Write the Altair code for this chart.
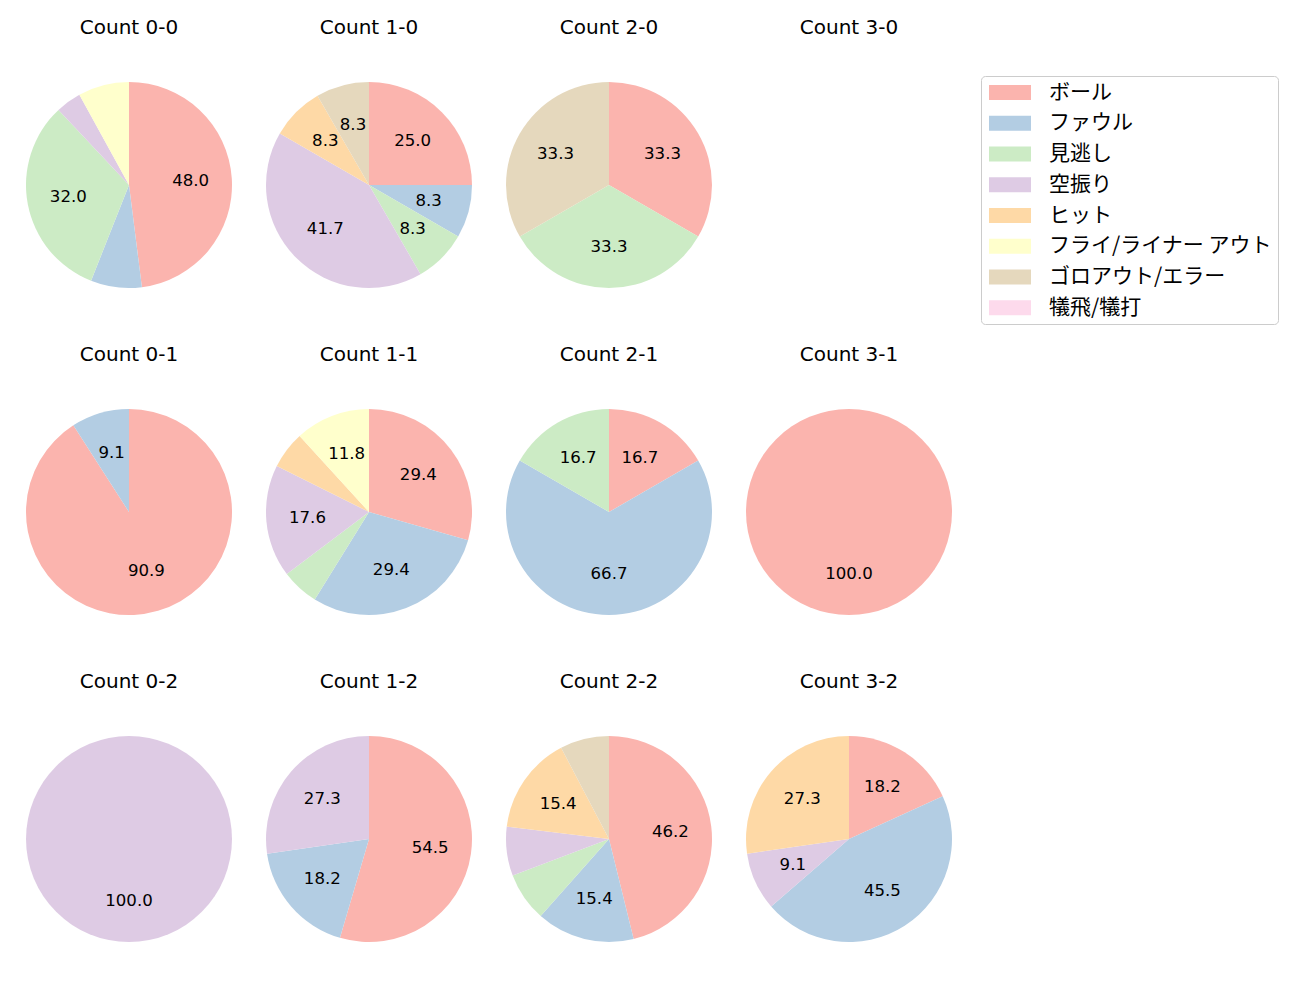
import altair as alt
import pandas as pd

FONT = "DejaVu Sans"
JFONT = "Noto Sans CJK JP"

categories = ["ボール", "ファウル", "見逃し", "空振り", "ヒット",
              "フライ/ライナー アウト", "ゴロアウト/エラー", "犠飛/犠打"]
colors = ["#fbb4ae", "#b3cde3", "#ccebc5", "#decbe4", "#fed9a6",
          "#ffffcc", "#e5d8bd", "#fddaec"]

grid = [["0-0", "1-0", "2-0", "3-0"],
        ["0-1", "1-1", "2-1", "3-1"],
        ["0-2", "1-2", "2-2", "3-2"]]

c_0_0 = [12, 2, 8, 1, 0, 2, 0, 0]
c_1_0 = [3, 1, 1, 5, 1, 0, 1, 0]
c_2_0 = [1, 0, 1, 0, 0, 0, 1, 0]
c_3_0 = [0, 0, 0, 0, 0, 0, 0, 0]
c_0_1 = [10, 1, 0, 0, 0, 0, 0, 0]
c_1_1 = [5, 5, 1, 3, 1, 2, 0, 0]
c_2_1 = [1, 4, 1, 0, 0, 0, 0, 0]
c_3_1 = [1, 0, 0, 0, 0, 0, 0, 0]
c_0_2 = [0, 0, 0, 1, 0, 0, 0, 0]
c_1_2 = [6, 2, 0, 3, 0, 0, 0, 0]
c_2_2 = [6, 2, 1, 1, 2, 0, 1, 0]
c_3_2 = [2, 5, 0, 1, 3, 0, 0, 0]

counts = {"0-0": c_0_0, "1-0": c_1_0, "2-0": c_2_0, "3-0": c_3_0,
          "0-1": c_0_1, "1-1": c_1_1, "2-1": c_2_1, "3-1": c_3_1,
          "0-2": c_0_2, "1-2": c_1_2, "2-2": c_2_2, "3-2": c_3_2}

R = 103
SIZE = 206

color_scale = alt.Scale(domain=categories, range=colors)
legend = alt.Legend(
    title=None, orient="none", legendX=955, legendY=-6,
    symbolType="M-0.81,-0.714L3.19,-0.714L3.19,0.714L-0.81,0.714Z",
    symbolSize=441,
    symbolStrokeWidth=0, symbolOpacity=1,
    labelFont=JFONT, labelFontSize=21, labelColor="black", labelOffset=41,
    labelExpr="datum.label + ' '",
    rowPadding=8.75, padding=6, strokeColor="#cccccc", fillColor="white",
    cornerRadius=4, labelLimit=400,
)


def title_for(name):
    return alt.TitleParams(text=f"Count {name}", font=FONT, fontSize=20,
                           fontWeight="normal", color="black", offset=44)


def make_pie(name):
    vals = counts[name]
    total = sum(vals)
    if total == 0:
        df = pd.DataFrame({"v": [0]})
        return alt.Chart(df).mark_text(text="").encode(
            x=alt.value(SIZE / 2), y=alt.value(SIZE / 2)
        ).properties(width=SIZE, height=SIZE, title=title_for(name))
    rows = []
    for i, (c, v) in enumerate(zip(categories, vals)):
        if v > 0:
            pct = 100.0 * v / total
            rows.append({"idx": i, "cat": c, "value": v,
                         "label": f"{pct:.1f}" if pct > 8.1 else ""})
    df = pd.DataFrame(rows)
    base = alt.Chart(df).encode(
        theta=alt.Theta("value:Q", stack=True),
        order=alt.Order("idx:Q", sort="ascending"),
    )
    arcs = base.mark_arc(outerRadius=R).encode(
        color=alt.Color("cat:N", scale=color_scale, legend=legend)
    )
    texts = base.mark_text(radius=0.6 * R, font=FONT, fontSize=16.6,
                           color="black").encode(
        text="label:N", detail="cat:N"
    )
    return alt.layer(arcs, texts).properties(width=SIZE, height=SIZE,
                                             title=title_for(name))


rows = [alt.hconcat(*[make_pie(n) for n in r], spacing=34) for r in grid]
chart = alt.vconcat(*rows, spacing=57).properties(
    padding={"left": 18, "top": 10, "right": 10, "bottom": 10}
).configure_view(strokeWidth=0)

chart.save("out.html", embed_options={"renderer": "svg", "actions": False})
